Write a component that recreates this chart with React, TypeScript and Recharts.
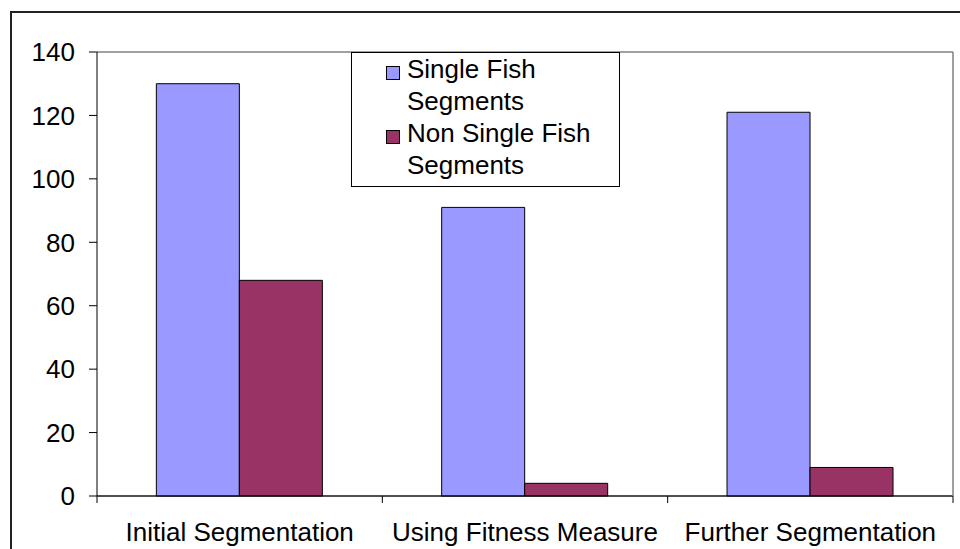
import { BarChart, Bar, XAxis, YAxis, CartesianGrid, Legend } from 'recharts'

const categories = ['Initial Segmentation', 'Using Fitness Measure', 'Further Segmentation']
const singleFish = [130, 91, 121]
const nonSingleFish = [68, 4, 9]
const yTicks = [0, 20, 40, 60, 80, 100, 120, 140]

const seriesNames = ['Single Fish Segments', 'Non Single Fish Segments']
const seriesColors = ['#9999FF', '#993366']

const data = categories.map((name, i) => ({
  name,
  single: singleFish[i],
  nonSingle: nonSingleFish[i],
}))

const WIDTH = 960
const HEIGHT = 549
const PLOT_LEFT = 97
const PLOT_RIGHT = 953
const BAND = (PLOT_RIGHT - PLOT_LEFT) / categories.length
const FONT = '"Liberation Sans", Arial, sans-serif'

const CategoryTick = (props: any) => {
  const { x, y, payload, index } = props
  const half = BAND / 2
  return (
    <g>
      <line x1={x - half} x2={x - half} y1={y - 27} y2={y - 20} stroke="#000" />
      {index === categories.length - 1 && (
        <line x1={x + half} x2={x + half} y1={y - 27} y2={y - 20} stroke="#000" />
      )}
      <text
        x={x}
        y={y}
        dy="0.71em"
        textAnchor="middle"
        fill="#000"
        fontSize={26}
        fontFamily={FONT}
      >
        {payload.value}
      </text>
    </g>
  )
}

const LegendBox = () => (
  <div
    style={{
      width: 267,
      height: 133,
      background: '#fff',
      border: '1px solid #000',
      fontFamily: FONT,
      fontSize: 26,
      lineHeight: '32px',
      color: '#000',
    }}
  >
    {seriesNames.map((name, i) => (
      <div key={name} style={{ display: 'flex', alignItems: 'flex-start' }}>
        <div
          style={{
            width: 14,
            height: 14,
            marginLeft: 34,
            marginTop: 13,
            marginRight: 7,
            background: seriesColors[i],
            border: '1px solid #000',
            boxSizing: 'border-box',
            flexShrink: 0,
          }}
        />
        <div style={{ width: 205 }}>{name}</div>
      </div>
    ))}
  </div>
)

export default function App() {
  return (
    <div
      style={{
        position: 'absolute',
        left: 0,
        top: 0,
        width: WIDTH,
        height: HEIGHT,
        overflow: 'hidden',
        background: '#fff',
      }}
    >
      <div
        style={{
          position: 'absolute',
          left: 10,
          top: 11,
          width: WIDTH + 20,
          height: HEIGHT + 20,
          border: '2px solid #222',
        }}
      />
      <div style={{ position: 'absolute', left: 0, top: 0 }}>
        <BarChart
          width={WIDTH}
          height={HEIGHT}
          data={data}
          margin={{ top: 52, right: WIDTH - PLOT_RIGHT - 7, left: 0, bottom: 0 }}
          barCategoryGap="20.8%"
          barGap={0}
        >
          <CartesianGrid vertical={false} stroke="#808080" strokeWidth={1.5} />
          <XAxis
            dataKey="name"
            interval={0}
            height={53}
            tickSize={7}
            tickMargin={20}
            tickLine={false}
            axisLine={{ stroke: '#000' }}
            tick={<CategoryTick />}
          />
          <YAxis
            yAxisId="left"
            width={PLOT_LEFT}
            domain={[0, 140]}
            ticks={yTicks}
            tickSize={8}
            tickMargin={14}
            axisLine={{ stroke: '#000' }}
            tickLine={{ stroke: '#000' }}
            tick={{ fill: '#000', fontSize: 26, fontFamily: FONT }}
          />
          <YAxis
            yAxisId="right"
            orientation="right"
            width={7}
            domain={[0, 140]}
            tick={false}
            tickLine={false}
            axisLine={{ stroke: '#808080', strokeWidth: 1.5 }}
          />
          <Legend
            layout="horizontal"
            verticalAlign="middle"
            align="center"
            content={<LegendBox />}
            wrapperStyle={{ position: 'absolute', left: 351, top: 52, width: 269 }}
          />
          <Bar
            yAxisId="left"
            dataKey="single"
            name={seriesNames[0]}
            fill={seriesColors[0]}
            stroke="#000"
            strokeWidth={1}
            isAnimationActive={false}
          />
          <Bar
            yAxisId="left"
            dataKey="nonSingle"
            name={seriesNames[1]}
            fill={seriesColors[1]}
            stroke="#000"
            strokeWidth={1}
            isAnimationActive={false}
          />
        </BarChart>
      </div>
    </div>
  )
}
